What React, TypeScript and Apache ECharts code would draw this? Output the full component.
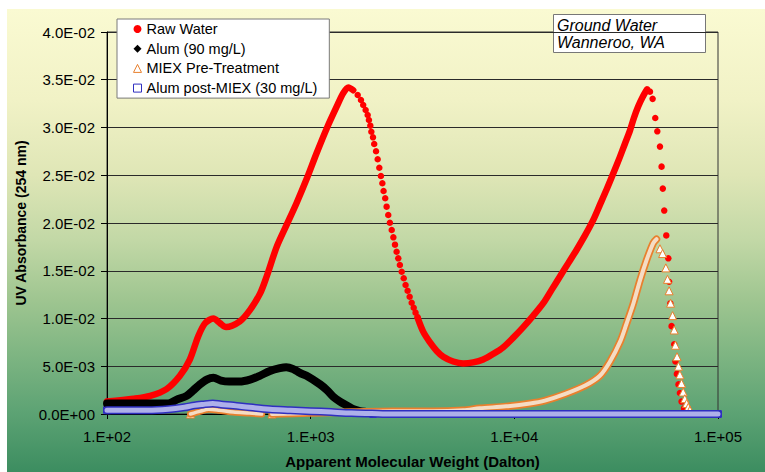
import React, { useEffect, useRef } from "react";
import * as echarts from "echarts";

// ---------- data (x = apparent molecular weight in Dalton, y = UV absorbance) ----------
const X_TICKS = [100, 1000, 10000, 100000];
const Y_MIN = 0;
const Y_MAX = 0.04;
const Y_STEP = 0.005;

const SERIES_NAMES = [
  "Raw Water",
  "Alum (90 mg/L)",
  "MIEX Pre-Treatment",
  "Alum post-MIEX (30 mg/L)",
];

// Raw Water: dense part up to the first peak
const rawWaterDenseA: [number, number][] = [
  [100, 0.0013], [135, 0.0016], [163, 0.0019], [196, 0.0026], [228, 0.004],
  [255, 0.0057], [280, 0.0081], [303, 0.0095], [333, 0.01], [359, 0.0095],
  [384, 0.0091], [449, 0.0097], [504, 0.0109], [564, 0.0126], [608, 0.0144],
  [681, 0.0175], [762, 0.0198], [853, 0.0221], [955, 0.0246], [1069, 0.0273],
  [1199, 0.0299], [1343, 0.0322], [1445, 0.0336], [1531, 0.0342], [1618, 0.0339],
];
// Raw Water: separated dots on the falling side of the first peak
const rawWaterDotsA: [number, number][] = [
  [1702, 0.0334], [1766, 0.03288], [1811, 0.03236], [1862, 0.03183], [1905, 0.03131],
  [1932, 0.03079], [1963, 0.03019], [1986, 0.02956], [2023, 0.02897], [2051, 0.02827],
  [2094, 0.02751], [2133, 0.02667], [2173, 0.02579], [2213, 0.02492], [2249, 0.02416],
  [2280, 0.02335], [2323, 0.02259], [2360, 0.02171], [2404, 0.02084], [2449, 0.02003],
  [2500, 0.01927], [2547, 0.0185], [2594, 0.01773], [2642, 0.01699], [2692, 0.0163],
  [2742, 0.0156], [2799, 0.0149], [2864, 0.01421], [2924, 0.01351], [2992, 0.01291],
  [3062, 0.01228], [3133, 0.01165], [3206, 0.01113], [3273, 0.01061], [3350, 0.01013],
];
// Raw Water: dense part from the minimum to the second peak
const rawWaterDenseB: [number, number][] = [
  [3350, 0.0101], [3573, 0.0086], [3855, 0.0075], [4159, 0.0066], [4477, 0.006],
  [5012, 0.0055], [5610, 0.0053], [6281, 0.0054], [7031, 0.0057], [7889, 0.0063],
  [8831, 0.007], [9886, 0.008], [11066, 0.0091], [12388, 0.0103], [13868, 0.0116],
  [15241, 0.013], [16749, 0.0144], [18408, 0.0158], [20230, 0.0172], [22233, 0.0187],
  [24378, 0.0203], [26303, 0.0219], [28379, 0.0235], [30620, 0.0252], [32961, 0.0269],
  [34914, 0.0283], [36983, 0.0297], [38637, 0.031], [40551, 0.0322], [42658, 0.0332],
  [44875, 0.034],
];
// Raw Water: separated dots on the falling side of the second peak
const rawWaterDotsB: [number, number][] = [
  [46340, 0.03375], [47750, 0.033], [49200, 0.031], [50350, 0.0296], [51880, 0.028],
  [52840, 0.0259], [53580, 0.0236], [54450, 0.0213], [55720, 0.0187], [57020, 0.0163],
  [57540, 0.01385], [58340, 0.0116], [59160, 0.0092], [60950, 0.0073], [61800, 0.0055],
  [62810, 0.0042], [63970, 0.0031], [65010, 0.0022], [66220, 0.0013], [68080, 0.0006],
  [70150, 0.0002],
];

// Alum (90 mg/L)
const alumDense: [number, number][] = [
  [100, 0.0011], [141, 0.0011], [200, 0.0011], [220, 0.0015], [246, 0.0019],
  [266, 0.0025], [286, 0.0031], [309, 0.0036], [333, 0.0038], [363, 0.0035],
  [398, 0.0034], [447, 0.0034], [504, 0.0036], [562, 0.004], [631, 0.0045],
  [706, 0.0048], [759, 0.0049], [822, 0.0047], [885, 0.0043], [955, 0.004],
  [1112, 0.0031], [1202, 0.0025], [1291, 0.0018], [1393, 0.0013], [1503, 0.0009],
  [1622, 0.0005], [1746, 0.0003], [1884, 0.0002], [2042, 0.0001],
];

// MIEX Pre-Treatment
const miexHump: [number, number][] = [
  [257, 0], [288, 0.0003], [316, 0.0005], [355, 0.0004], [417, 0.0002],
  [501, 0.0001], [575, 0],
];
const miexDense: [number, number][] = [
  [646, 0], [1000, 0.0001], [1585, 0.0002], [2512, 0.0003], [3981, 0.0003],
  [5623, 0.0004], [6761, 0.0006], [9120, 0.0008], [11940, 0.0011], [14125, 0.0014],
  [17783, 0.0021], [22387, 0.003], [26303, 0.004], [29512, 0.0055], [33113, 0.0076],
  [35481, 0.0094], [38459, 0.0116], [41400, 0.014], [44566, 0.0161], [48084, 0.0179],
  [49888, 0.0183],
];
const miexTriangles: [number, number][] = [
  [257, 0], [646, 0],
  [51880, 0.0173], [53460, 0.0168], [55460, 0.0153], [56490, 0.0141], [57540, 0.0129],
  [58480, 0.0116], [59840, 0.0103], [60950, 0.0088], [61800, 0.0072], [62950, 0.006],
  [63970, 0.005], [65010, 0.0041], [66220, 0.0032], [67450, 0.0023], [68710, 0.0016],
  [70150, 0.0011], [71450, 0.0007], [72780, 0.0004],
];

// Alum post-MIEX (30 mg/L)
const postMiexDense: [number, number][] = [
  [100, 0.0004], [126, 0.0004], [158, 0.0004], [200, 0.0005], [240, 0.0007],
  [269, 0.0009], [295, 0.001], [331, 0.0011], [363, 0.001], [417, 0.0009],
  [501, 0.0007], [631, 0.0005], [794, 0.0004], [1000, 0.0003], [1259, 0.0002],
  [1585, 0.0001], [1995, 0.00005], [2512, 0], [5012, 0], [10000, 0],
  [31623, 0], [100000, 0],
];
const postMiexMarks: [number, number][] = [
  [100, 0.0004], [2023, 0], [15140, 0], [52480, 0], [100000, 0],
];

// ---------- styling ----------
const RED = "#ff0000";
const BLACK = "#000000";
const ORANGE = "#e8802e";
const ORANGE_IN = "#f5dcc4";
const BLUE = "#2f2fc0";
const BLUE_IN = "#aeb0ea";
const FONT = "Arial, 'Liberation Sans', sans-serif";

const sciLabel = (v: number) => {
  const [m, e] = v.toExponential(1).split("e");
  const n = parseInt(e, 10);
  return `${m}E${n < 0 ? "-" : "+"}${String(Math.abs(n)).padStart(2, "0")}`;
};
const logLabel = (v: number) => {
  const n = Math.round(Math.log10(v));
  return `1.E${n < 0 ? "-" : "+"}${String(Math.abs(n)).padStart(2, "0")}`;
};

const band = (name: string, data: [number, number][], color: string, width: number) => ({
  type: "line",
  name,
  data,
  smooth: 0.3,
  symbol: "none",
  showSymbol: false,
  clip: false,
  silent: true,
  lineStyle: { color, width, cap: "round", join: "round" },
  itemStyle: { color },
});

const dots = (
  name: string,
  data: [number, number][],
  symbol: string,
  size: number,
  fill: string,
  border: string,
  borderWidth: number
) => ({
  type: "scatter",
  name,
  data,
  symbol,
  symbolSize: size,
  clip: false,
  silent: true,
  itemStyle: { color: fill, borderColor: border, borderWidth, opacity: 1 },
});

export default function App() {
  const ref = useRef<HTMLDivElement>(null);

  useEffect(() => {
    if (!ref.current) return;
    const chart = echarts.init(ref.current, undefined, { renderer: "svg" });
    const [nRaw, nAlum, nMiex, nPost] = SERIES_NAMES;
    chart.setOption({
      animation: false,
      backgroundColor: "transparent",
      textStyle: { fontFamily: FONT, color: "#000" },
      grid: {
        left: 107,
        right: 47,
        top: 32,
        bottom: 58,
        show: true,
        borderColor: "#333",
        borderWidth: 1,
        backgroundColor: "transparent",
        outerBoundsMode: "none",
      },
      xAxis: {
        type: "log",
        logBase: 10,
        min: X_TICKS[0],
        max: X_TICKS[X_TICKS.length - 1],
        name: "Apparent Molecular Weight (Dalton)",
        nameLocation: "middle",
        nameGap: 40,
        nameTextStyle: { fontSize: 15, fontWeight: "bold", color: "#000", fontFamily: FONT },
        axisLine: { show: true, lineStyle: { color: "#000", width: 1 } },
        axisTick: { show: true, length: 5, lineStyle: { color: "#000" } },
        minorTick: { show: false },
        splitLine: { show: false },
        axisLabel: {
          formatter: logLabel,
          fontSize: 15,
          color: "#000",
          margin: 15,
          fontFamily: FONT,
        },
      },
      yAxis: {
        type: "value",
        min: Y_MIN,
        max: Y_MAX,
        interval: Y_STEP,
        name: "UV Absorbance (254 nm)",
        nameLocation: "middle",
        nameRotate: 90,
        nameGap: 78,
        nameTextStyle: { fontSize: 14, fontWeight: "bold", color: "#000", fontFamily: FONT },
        axisLine: { show: true, lineStyle: { color: "#000", width: 1 } },
        axisTick: { show: true, length: 6, lineStyle: { color: "#000" } },
        splitLine: { show: true, lineStyle: { color: "#2a2a2a", width: 1 } },
        axisLabel: {
          formatter: sciLabel,
          fontSize: 15,
          color: "#000",
          margin: 12,
          fontFamily: FONT,
        },
      },
      legend: {
        orient: "vertical",
        left: 117,
        top: 19,
        padding: [2, 12, 2, 16],
        itemGap: 3.7,
        itemWidth: 8,
        itemHeight: 8,
        backgroundColor: "#ffffff",
        borderColor: "#7a7a7a",
        borderWidth: 1,
        borderRadius: 0,
        selectedMode: false,
        textStyle: { fontSize: 14.5, color: "#000", fontFamily: FONT, lineHeight: 16 },
        data: [
          { name: nRaw, icon: "circle", itemStyle: { color: RED, borderWidth: 0 } },
          { name: nAlum, icon: "diamond", itemStyle: { color: BLACK, borderWidth: 0 } },
          {
            name: nMiex,
            icon: "triangle",
            itemStyle: { color: "#ffffff", borderColor: ORANGE, borderWidth: 1 },
          },
          {
            name: nPost,
            icon: "rect",
            itemStyle: { color: "#ffffff", borderColor: BLUE, borderWidth: 1 },
          },
        ],
      },
      graphic: [
        {
          type: "group",
          left: 553,
          top: 14,
          children: [
            {
              type: "rect",
              shape: { x: 0.5, y: 0.5, width: 152, height: 38 },
              style: { fill: "#ffffff", stroke: "#777", lineWidth: 1 },
            },
            {
              type: "text",
              x: 4,
              y: 11,
              style: {
                text: "Ground Water",
                font: `italic 16px ${FONT}`,
                fill: "#000",
                verticalAlign: "middle",
              },
            },
            {
              type: "text",
              x: 4,
              y: 28,
              style: {
                text: "Wanneroo, WA",
                font: `italic 16px ${FONT}`,
                fill: "#000",
                verticalAlign: "middle",
              },
            },
          ],
        },
      ],
      series: [
        band(nRaw, rawWaterDenseA, RED, 6.5),
        dots(nRaw, rawWaterDotsA, "circle", 6.5, RED, RED, 0),
        band(nRaw, rawWaterDenseB, RED, 6.5),
        dots(nRaw, rawWaterDotsB, "circle", 6.5, RED, RED, 0),
        band(nAlum, alumDense, BLACK, 8),
        band(nMiex, miexHump, ORANGE, 7),
        band(nMiex, miexHump, ORANGE_IN, 3.5),
        band(nMiex, miexDense, ORANGE, 7.5),
        band(nMiex, miexDense, ORANGE_IN, 4),
        dots(nMiex, miexTriangles, "triangle", 8, "#ffffff", ORANGE, 1),
        band(nPost, postMiexDense, BLUE, 8),
        band(nPost, postMiexDense, BLUE_IN, 5),
        dots(nPost, postMiexMarks, "rect", 7, "#ffffff", BLUE, 1),
      ],
    });
    return () => chart.dispose();
  }, []);

  return (
    <div
      style={{
        position: "fixed",
        left: 0,
        top: 0,
        width: 765,
        height: 472,
        background: "#ffffff",
        overflow: "hidden",
      }}
    >
      <div
        style={{
          position: "absolute",
          left: 7,
          top: 9,
          right: 0,
          bottom: 0,
          background:
            "linear-gradient(to bottom, #fafad2 0%, #f1f2c6 19.6%, #dfe6b6 35.8%, #c2d8a6 50%, #9ec590 63%, #80b683 74%, #5da374 87%, #3c8d60 100%)",
        }}
      />
      <div ref={ref} style={{ position: "absolute", left: 0, top: 0, width: 765, height: 472 }} />
    </div>
  );
}
